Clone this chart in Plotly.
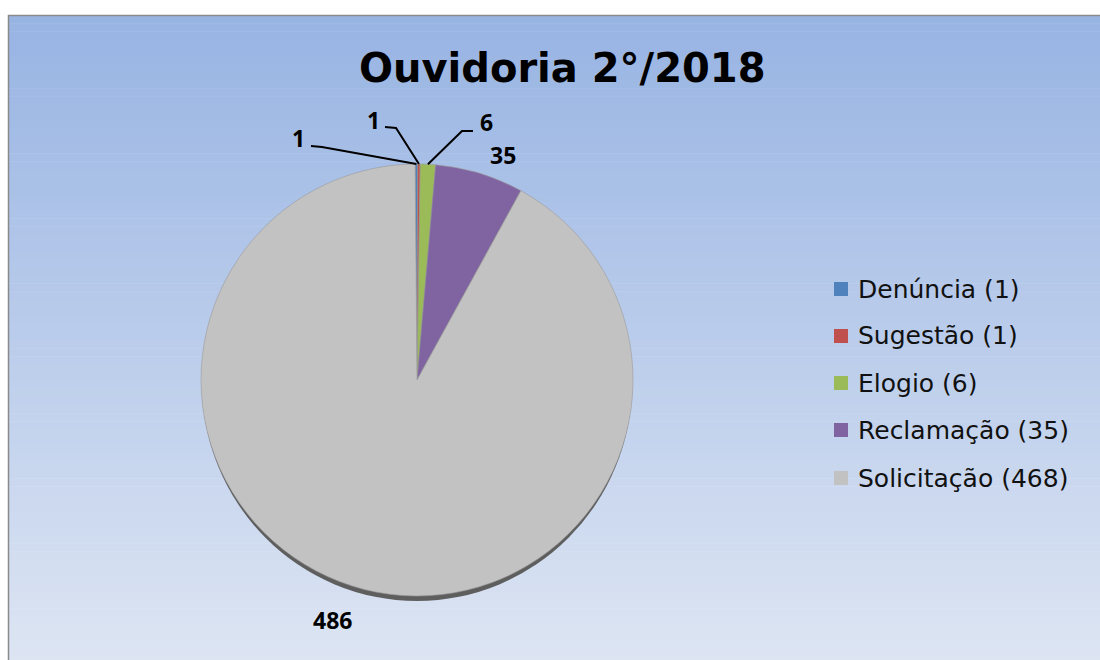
import math
import plotly.graph_objects as go

# ---- data ----
categories = ["Denúncia", "Sugestão", "Elogio", "Reclamação", "Solicitação"]
values = [1, 1, 6, 35, 486]
legend_labels = ["Denúncia (1)", "Sugestão (1)", "Elogio (6)", "Reclamação (35)", "Solicitação (468)"]
colors = ["#4F81BD", "#C0504D", "#9BBB59", "#8064A2", "#C2C2C2"]
title_text = "Ouvidoria 2°/2018"

W, H = 1100, 660
def px(x):
    return x / W
def py(y):
    return 1 - y / H

# pie geometry (pixels)
cx, cy, r = 417, 380, 216

fig = go.Figure()
fig.add_trace(go.Pie(
    labels=categories, values=values, sort=False, direction="clockwise", rotation=-0.5,
    marker=dict(colors=colors, line=dict(color="#9a9a9a", width=0.6)),
    textinfo="none", hoverinfo="label+value", showlegend=False,
    domain=dict(x=[px(cx - r), px(cx + r)], y=[py(cy + r), py(cy - r)]),
))

shapes = []
# gradient background bands
top_c = (0x98, 0xB4, 0xE3)
bot_c = (0xDD, 0xE5, 0xF3)
y0, y1 = 15, 665
n = 80
for i in range(n):
    t = i / (n - 1)
    c = tuple(int(round(top_c[k] + (bot_c[k] - top_c[k]) * t)) for k in range(3))
    ya = y0 + (y1 - y0) * i / n
    yb = y0 + (y1 - y0) * (i + 1) / n + 0.5
    shapes.append(dict(type="rect", xref="paper", yref="paper", layer="below",
                       x0=px(8), x1=px(1110), y0=py(yb), y1=py(ya),
                       fillcolor="rgb(%d,%d,%d)" % c, line=dict(width=0)))
# frame
shapes.append(dict(type="rect", xref="paper", yref="paper", layer="below",
                   x0=px(8.5), x1=px(1110), y0=py(670), y1=py(15.5),
                   fillcolor="rgba(0,0,0,0)", line=dict(color="#8a8a8a", width=1.5)))
# pie shadow
shapes.append(dict(type="circle", xref="paper", yref="paper", layer="below",
                   x0=px(cx - r + 1), x1=px(cx + r - 1), y0=py(cy + r + 5), y1=py(cy - r + 2),
                   fillcolor="#5e5e5e", line=dict(width=0)))

# leader lines from label elbows to slice edges (edge points computed from data)
total = sum(values)
cum = 0
edge = []
for v in values:
    mid = (cum + v / 2) / total * 360 - 0.5
    th = math.radians(mid)
    edge.append((cx + r * math.sin(th), cy - r * math.cos(th)))
    cum += v

label_pos = [(298, 138), (373, 120), (486, 122), (503, 155), (332, 620)]
elbows = [((311, 146), (322, 147)), ((385, 127), (396, 128)), ((473, 131), (462, 131)), None, None]
for i, el in enumerate(elbows):
    if el is None:
        continue
    (ax, ay), (bx, by) = el
    ex, ey = edge[i]
    shapes.append(dict(type="path", xref="paper", yref="paper",
                       path="M %f %f L %f %f L %f %f" % (px(ax), py(ay), px(bx), py(by), px(ex), py(ey)),
                       line=dict(color="black", width=2)))

annotations = []
for i, (lx, ly) in enumerate(label_pos):
    annotations.append(dict(text="<b>%d</b>" % values[i], x=px(lx), y=py(ly), xref="paper", yref="paper",
                            showarrow=False, xanchor="center", yanchor="middle",
                            font=dict(family="Noto Sans", size=23, color="black")))

# title
annotations.append(dict(text="<b>%s</b>" % title_text, x=px(562), y=py(68), xref="paper", yref="paper",
                        showarrow=False, xanchor="center", yanchor="middle",
                        font=dict(family="DejaVu Sans", size=40, color="black")))

# legend (manual)
leg_y = [289, 336, 383, 430, 478]
for i, lab in enumerate(legend_labels):
    yy = leg_y[i]
    shapes.append(dict(type="rect", xref="paper", yref="paper",
                       x0=px(834), x1=px(848), y0=py(yy + 7), y1=py(yy - 7),
                       fillcolor=colors[i], line=dict(width=0)))
    annotations.append(dict(text=lab, x=px(856), y=py(yy), xref="paper", yref="paper",
                            showarrow=False, xanchor="left", yanchor="middle",
                            font=dict(family="DejaVu Sans", size=25, color="#111111")))

fig.update_layout(
    width=W, height=H, margin=dict(l=0, r=0, t=0, b=0),
    paper_bgcolor="white", plot_bgcolor="white",
    shapes=shapes, annotations=annotations, showlegend=False,
)
fig.write_html("out.html", config={"displayModeBar": False},
               post_script="document.body.style.margin='0';document.body.style.overflow='hidden';")
